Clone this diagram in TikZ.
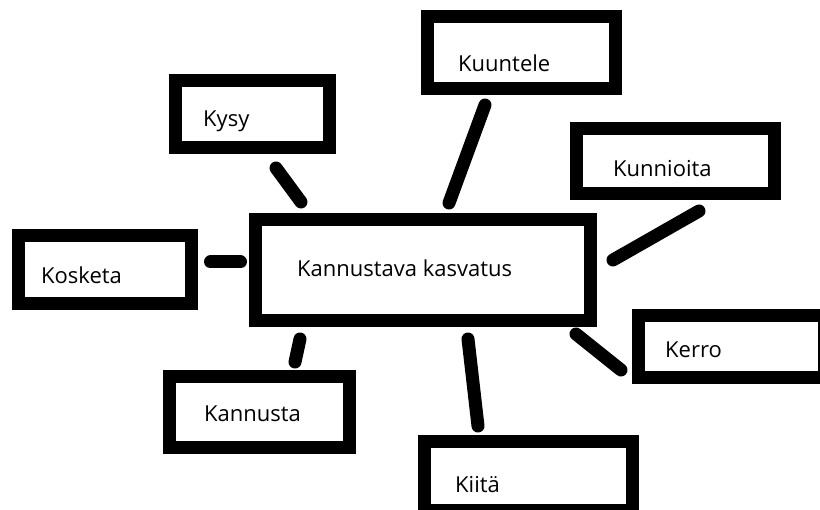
\documentclass[tikz,border=0pt]{standalone}
\usepackage{fontspec}
\setmainfont{Open Sans}
\begin{document}
\begin{tikzpicture}[x=1pt,y=-1pt,line join=miter]
            \tikzset{box/.style={draw,line width=13pt,inner sep=0pt,outer sep=0pt},
                     txt/.style={anchor=base west,inner sep=0pt,font=\fontsize{22}{26}\selectfont},
                     link/.style={line width=13pt,line cap=round}}
            \useasboundingbox (0,0) rectangle (820,510);
            % boxes: name / centre / size / where the word starts / word
            \foreach \n/\cx/\cy/\w/\h/\tx/\ty/\word in {
                hub/422.75/270.25/335.5/100.5/297/277/Kannustava kasvatus,
                kysy/252.25/114/153.5/67/203/127/Kysy,
                kuuntele/521.25/52.5/188.5/72/458/72/Kuuntele,
                kunnioita/675.5/161/198/65/613/177/Kunnioita,
                kosketa/104.5/269.5/173/68/41/284/Kosketa,
                kannusta/259.5/412.25/180/71.5/204/422/Kannusta,
                kerro/731.25/347/186.5/62/665/358/Kerro,
                kiita/528.25/476/207.5/69/455/493/Kiitä}
            {
            \node[box,minimum width=\w pt,minimum height=\h pt] (\n) at (\cx,\cy) {};
            \node[txt] (\n-t) at (\tx,\ty) {\word};
            }
            % strokes between the boxes
            \foreach \n/\ax/\ay/\bx/\by in {
                kysy/276/168/301/202,
                kuuntele/485/105/449/203,
                kunnioita/699/211/613/260,
                kosketa/210.5/262/240.5/262,
                kerro/576/334/621/370,
                kannusta/300/339/295/362,
                kiita/468/339/478/426}
            {
            \coordinate (\n-a) at (\ax,\ay);
            \coordinate (\n-b) at (\bx,\by);
            \draw[link] (\n-a)--(\n-b);
            }
\end{tikzpicture}
\end{document}
